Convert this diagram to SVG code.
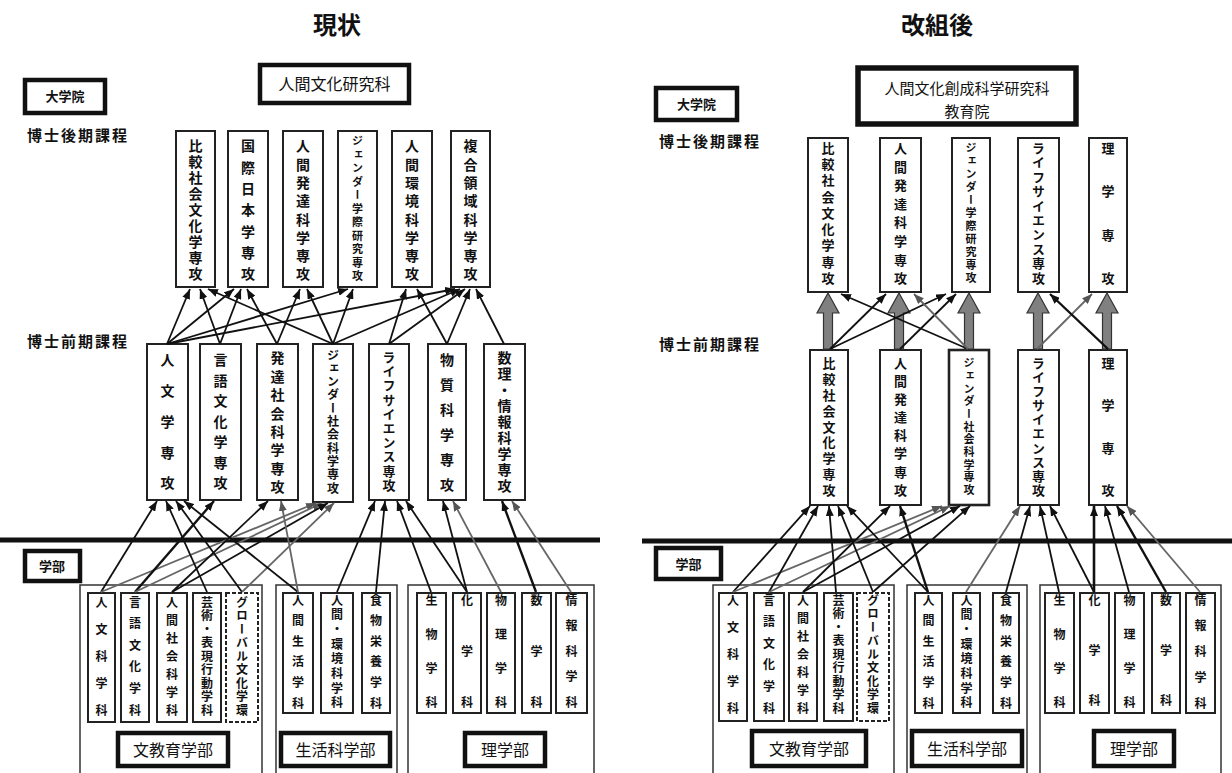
<svg xmlns="http://www.w3.org/2000/svg" width="1232" height="773" viewBox="0 0 1232 773">
<style>
text{font-family:"Noto Sans CJK JP","Noto Sans",sans-serif;fill:#111}
.t{font-size:24px;font-weight:700;text-anchor:middle}
.h{font-size:16px;text-anchor:middle}
.b{font-size:13px;font-weight:700;text-anchor:middle}
.lv{font-size:15px;font-weight:700;letter-spacing:2px}
.v{writing-mode:vertical-rl;font-weight:700;font-size:14px}
.box{fill:#fff;stroke:#222;stroke-width:2}
.dash{fill:#fff;stroke:#222;stroke-width:2;stroke-dasharray:4 2}
.thick{fill:#fff;stroke:#111;stroke-width:4.5}
.outer{fill:none;stroke:#333;stroke-width:1.5}
.k{stroke:#111;stroke-width:1.8;fill:none;marker-end:url(#ak)}
.g{stroke:#666;stroke-width:1.8;fill:none;marker-end:url(#ag)}
.fat{fill:#808080;stroke:#333;stroke-width:1.2}
</style>
<defs>
<marker id="ak" viewBox="0 0 10 8" refX="10" refY="4" markerWidth="10" markerHeight="8" markerUnits="userSpaceOnUse" orient="auto"><path d="M0,0 L10,4 L0,8 z" fill="#111"/></marker>
<marker id="ag" viewBox="0 0 10 8" refX="10" refY="4" markerWidth="10" markerHeight="8" markerUnits="userSpaceOnUse" orient="auto"><path d="M0,0 L10,4 L0,8 z" fill="#555"/></marker>
</defs>
<rect width="1232" height="773" fill="#fff"/>

<!-- ================= LEFT ================= -->
<text class="t" x="337" y="34">現状</text>
<g id="l-daigakuin"><rect class="thick" x="25" y="80" width="80" height="33"/><text class="b" x="65" y="101">大学院</text></g>
<text class="lv" x="27" y="141">博士後期課程</text>
<text class="lv" x="27" y="347">博士前期課程</text>
<g id="l-header"><rect class="thick" x="260" y="65" width="149" height="38"/><text class="h" x="334.5" y="90">人間文化研究科</text></g>

<g id="l-late">
<rect class="box" x="176" y="131" width="39" height="156"/><text class="v" x="195.5" y="139" style="letter-spacing:2px">比較社会文化学専攻</text>
<rect class="box" x="228" y="131" width="40" height="156"/><text class="v" x="248" y="139" style="letter-spacing:7.3px">国際日本学専攻</text>
<rect class="box" x="283" y="131" width="40" height="156"/><text class="v" x="303" y="139" style="letter-spacing:4.3px">人間発達科学専攻</text>
<rect class="box" x="338" y="131" width="39" height="156"/><text class="v" x="357.5" y="135.5" style="font-size:11px;letter-spacing:2.5px">ジェンダー学際研究専攻</text>
<rect class="box" x="392" y="131" width="40" height="156"/><text class="v" x="412" y="139" style="letter-spacing:4.3px">人間環境科学専攻</text>
<rect class="box" x="451" y="131" width="39" height="156"/><text class="v" x="470.5" y="139" style="letter-spacing:4.3px">複合領域科学専攻</text>
</g>

<g id="l-early">
<rect class="box" x="147" y="344" width="41" height="156"/><text class="v" x="167.5" y="353" style="letter-spacing:16.75px">人文学専攻</text>
<rect class="box" x="200" y="344" width="41" height="156"/><text class="v" x="220.5" y="353" style="letter-spacing:6.5px">言語文化学専攻</text>
<rect class="box" x="257" y="344" width="41" height="156"/><text class="v" x="277.5" y="351" style="letter-spacing:4.4px">発達社会科学専攻</text>
<rect class="box" x="313" y="344" width="40" height="158"/><text class="v" x="333" y="349" style="font-size:12px;letter-spacing:1.3px">ジェンダー社会科学専攻</text>
<rect class="box" x="369" y="344" width="40" height="156"/><text class="v" x="389" y="350.5" style="font-size:13px;letter-spacing:1.2px">ライフサイエンス専攻</text>
<rect class="box" x="428" y="344" width="38" height="156"/><text class="v" x="447" y="353" style="letter-spacing:11px">物質科学専攻</text>
<rect class="box" x="484" y="344" width="41" height="156"/><text class="v" x="504.5" y="351" style="letter-spacing:1.9px">数理・情報科学専攻</text>
</g>

<line x1="0" y1="540" x2="600" y2="540" stroke="#111" stroke-width="5"/>
<g id="l-gakubu"><rect class="thick" x="25" y="551" width="55" height="30"/><text class="b" x="52" y="571">学部</text></g>

<g id="l-bunkyoiku">
<rect class="outer" x="80" y="585" width="182" height="200"/>
<rect class="box" x="88" y="593" width="27" height="129"/><text class="v" x="101.5" y="596" style="font-size:12px;letter-spacing:15px">人文科学科</text>
<rect class="box" x="121" y="593" width="28" height="129"/><text class="v" x="135" y="596" style="font-size:12px;letter-spacing:9.6px">言語文化学科</text>
<rect class="box" x="157" y="593" width="30" height="129"/><text class="v" x="172" y="596" style="font-size:12px;letter-spacing:6px">人間社会科学科</text>
<rect class="box" x="193" y="593" width="28" height="129"/><text class="v" x="207" y="596" style="font-size:12px;letter-spacing:1.5px">芸術・表現行動学科</text>
<rect class="dash" x="226" y="593" width="32" height="129"/><text class="v" x="242" y="596" style="font-size:12px;letter-spacing:1.5px">グローバル文化学環</text>
<rect class="thick" x="118" y="733" width="110" height="33"/><text class="h" x="173" y="755.5">文教育学部</text>
</g>
<g id="l-seikatsu">
<rect class="outer" x="276" y="585" width="121" height="200"/>
<rect class="box" x="283" y="593" width="30" height="120"/><text class="v" x="298" y="594" style="font-size:12px;letter-spacing:8.6px">人間生活学科</text>
<rect class="box" x="321" y="593" width="32" height="120"/><text class="v" x="337" y="594" style="font-size:12px;letter-spacing:2.7px">人間・環境科学科</text>
<rect class="box" x="362" y="593" width="28" height="120"/><text class="v" x="376" y="594" style="font-size:12px;letter-spacing:8.6px">食物栄養学科</text>
<rect class="thick" x="281" y="733" width="109" height="33"/><text class="h" x="335.5" y="755.5">生活科学部</text>
</g>
<g id="l-rigaku">
<rect class="outer" x="408" y="585" width="186" height="200"/>
<rect class="box" x="417" y="593" width="29" height="120"/><text class="v" x="431.5" y="594" style="font-size:12px;letter-spacing:22px">生物学科</text>
<rect class="box" x="453" y="593" width="28" height="120"/><text class="v" x="467" y="594" style="font-size:12px;letter-spacing:39px">化学科</text>
<rect class="box" x="487" y="593" width="28" height="120"/><text class="v" x="501" y="594" style="font-size:12px;letter-spacing:22px">物理学科</text>
<rect class="box" x="522" y="593" width="29" height="120"/><text class="v" x="536.5" y="594" style="font-size:12px;letter-spacing:39px">数学科</text>
<rect class="box" x="556" y="593" width="31" height="120"/><text class="v" x="571.5" y="594" style="font-size:12px;letter-spacing:13.5px">情報科学科</text>
<rect class="thick" x="465" y="733" width="80" height="33"/><text class="h" x="505" y="755.5">理学部</text>
</g>

<!-- ================= RIGHT ================= -->
<text class="t" x="937" y="34">改組後</text>
<g id="r-daigakuin"><rect class="thick" x="656" y="88" width="81" height="32"/><text class="b" x="696.5" y="109">大学院</text></g>
<text class="lv" x="659" y="147">博士後期課程</text>
<text class="lv" x="659" y="350">博士前期課程</text>
<g id="r-header"><rect class="thick" x="858" y="68" width="218" height="56" style="stroke-width:5.5"/><text class="h" x="967" y="94" style="font-size:15px">人間文化創成科学研究科</text><text class="h" x="967" y="117" style="font-size:15px">教育院</text></g>

<g id="r-late">
<rect class="box" x="808" y="138" width="40" height="154"/><text class="v" x="828" y="141.5" style="font-size:13px;letter-spacing:3.25px">比較社会文化学専攻</text>
<rect class="box" x="880" y="138" width="41" height="154"/><text class="v" x="900.5" y="141.5" style="font-size:13px;letter-spacing:5.6px">人間発達科学専攻</text>
<rect class="box" x="952" y="138" width="38" height="154"/><text class="v" x="971" y="142.5" style="font-size:11px;letter-spacing:2px">ジェンダー学際研究専攻</text>
<rect class="box" x="1018" y="138" width="41" height="154"/><text class="v" x="1038.5" y="141.5" style="font-size:13px;letter-spacing:1.4px">ライフサイエンス専攻</text>
<rect class="box" x="1089" y="138" width="38" height="154"/><text class="v" x="1108" y="141.5" style="font-size:13px;letter-spacing:30.3px">理学専攻</text>
</g>

<g id="r-early">
<rect class="box" x="810" y="350" width="38" height="155"/><text class="v" x="829" y="356.5" style="font-size:13px;letter-spacing:2.9px">比較社会文化学専攻</text>
<rect class="box" x="880" y="350" width="41" height="155"/><text class="v" x="900.5" y="356.5" style="font-size:13px;letter-spacing:5.1px">人間発達科学専攻</text>
<rect class="box" x="949" y="350" width="40" height="155" style="stroke-width:2.6"/><text class="v" x="969" y="357.5" style="font-size:11px;letter-spacing:1.7px">ジェンダー社会科学専攻</text>
<rect class="box" x="1018" y="350" width="41" height="155"/><text class="v" x="1038.5" y="356.5" style="font-size:13px;letter-spacing:1.1px">ライフサイエンス専攻</text>
<rect class="box" x="1089" y="350" width="38" height="155"/><text class="v" x="1108" y="356.5" style="font-size:13px;letter-spacing:29.3px">理学専攻</text>
</g>

<line x1="642" y1="541" x2="1232" y2="541" stroke="#111" stroke-width="5"/>
<g id="r-gakubu"><rect class="thick" x="656" y="548" width="65" height="31"/><text class="b" x="688.5" y="569">学部</text></g>

<g id="r-bunkyoiku">
<rect class="outer" x="713" y="585" width="181" height="200"/>
<rect class="box" x="719" y="593" width="28" height="128"/><text class="v" x="733" y="594" style="font-size:12px;letter-spacing:15px">人文科学科</text>
<rect class="box" x="754" y="593" width="30" height="128"/><text class="v" x="769" y="594" style="font-size:12px;letter-spacing:9.6px">言語文化学科</text>
<rect class="box" x="789" y="593" width="28" height="128"/><text class="v" x="803" y="594" style="font-size:12px;letter-spacing:6px">人間社会科学科</text>
<rect class="box" x="824" y="593" width="29" height="128"/><text class="v" x="838.5" y="594" style="font-size:12px;letter-spacing:1.5px">芸術・表現行動学科</text>
<rect class="dash" x="857" y="593" width="32" height="128"/><text class="v" x="873" y="594" style="font-size:12px;letter-spacing:1.5px">グローバル文化学環</text>
<rect class="thick" x="752" y="731" width="114" height="35"/><text class="h" x="809" y="754.5">文教育学部</text>
</g>
<g id="r-seikatsu">
<rect class="outer" x="907" y="585" width="120" height="200"/>
<rect class="box" x="915" y="593" width="27" height="120"/><text class="v" x="928.5" y="594" style="font-size:12px;letter-spacing:8.6px">人間生活学科</text>
<rect class="box" x="953" y="593" width="27" height="120"/><text class="v" x="966.5" y="594" style="font-size:12px;letter-spacing:2.7px">人間・環境科学科</text>
<rect class="box" x="993" y="593" width="26" height="120"/><text class="v" x="1006" y="594" style="font-size:12px;letter-spacing:8.6px">食物栄養学科</text>
<rect class="thick" x="912" y="731" width="110" height="35"/><text class="h" x="967" y="754.5">生活科学部</text>
</g>
<g id="r-rigaku">
<rect class="outer" x="1040" y="585" width="181" height="200"/>
<rect class="box" x="1045" y="593" width="29" height="120"/><text class="v" x="1059.5" y="594" style="font-size:12px;letter-spacing:22.3px">生物学科</text>
<rect class="box" x="1080" y="593" width="29" height="120"/><text class="v" x="1094.5" y="594" style="font-size:12px;letter-spacing:38px">化学科</text>
<rect class="box" x="1115" y="593" width="29" height="120"/><text class="v" x="1129.5" y="594" style="font-size:12px;letter-spacing:22.3px">物理学科</text>
<rect class="box" x="1152" y="593" width="28" height="120"/><text class="v" x="1166" y="594" style="font-size:12px;letter-spacing:38px">数学科</text>
<rect class="box" x="1186" y="593" width="29" height="120"/><text class="v" x="1200.5" y="594" style="font-size:12px;letter-spacing:13.75px">情報科学科</text>
<rect class="thick" x="1094" y="731" width="80" height="35"/><text class="h" x="1134" y="754.5">理学部</text>
</g>

<!-- ================= CONNECTORS ================= -->
<g id="connectors">
<!-- left: early -> late -->
<line class="k" x1="167" y1="344" x2="190" y2="289"/>
<line class="k" x1="167" y1="344" x2="234" y2="289"/>
<line class="k" x1="167" y1="344" x2="348" y2="289"/>
<line class="k" x1="167" y1="344" x2="455" y2="289"/>
<line class="k" x1="220" y1="344" x2="200" y2="289"/>
<line class="k" x1="220" y1="344" x2="241" y2="289"/>
<line class="k" x1="277" y1="344" x2="247" y2="289"/>
<line class="k" x1="277" y1="344" x2="300" y2="289"/>
<line class="k" x1="333" y1="344" x2="208" y2="289"/>
<line class="k" x1="333" y1="344" x2="307" y2="289"/>
<line class="k" x1="333" y1="344" x2="353" y2="289"/>
<line class="k" x1="333" y1="344" x2="460" y2="289"/>
<line class="k" x1="389" y1="344" x2="406" y2="289"/>
<line class="k" x1="389" y1="344" x2="465" y2="289"/>
<line class="k" x1="447" y1="344" x2="417" y2="289"/>
<line class="k" x1="447" y1="344" x2="470" y2="289"/>
<line class="k" x1="504" y1="344" x2="476" y2="289"/>
<!-- left: departments -> early -->
<line class="k" x1="101" y1="592" x2="157" y2="501"/>
<line class="g" x1="101" y1="592" x2="316" y2="503"/>
<line class="k" x1="135" y1="592" x2="214" y2="501" style="stroke-width:2.4"/>
<line class="g" x1="135" y1="592" x2="322" y2="503"/>
<line class="k" x1="172" y1="592" x2="268" y2="501"/>
<line class="k" x1="172" y1="592" x2="328" y2="503"/>
<line class="k" x1="207" y1="592" x2="166" y2="501"/>
<line class="k" x1="242" y1="592" x2="176" y2="501"/>
<line class="g" x1="242" y1="592" x2="334" y2="503"/>
<line class="k" x1="298" y1="592" x2="184" y2="501"/>
<line class="g" x1="298" y1="592" x2="281" y2="501"/>
<line class="k" x1="337" y1="592" x2="375" y2="501"/>
<line class="k" x1="376" y1="592" x2="385" y2="501"/>
<line class="k" x1="431" y1="592" x2="397" y2="501"/>
<line class="k" x1="467" y1="592" x2="406" y2="501"/>
<line class="k" x1="467" y1="592" x2="443" y2="501"/>
<line class="g" x1="501" y1="592" x2="453" y2="501"/>
<line class="k" x1="536" y1="592" x2="502" y2="501" style="stroke-width:2.4"/>
<line class="g" x1="571" y1="592" x2="512" y2="501"/>

<!-- right: fat arrows early -> late -->
<polygon class="fat" points="828,293 839,313 832.5,313 832.5,349 823.5,349 823.5,313 817,313"/>
<polygon class="fat" points="899,293 910,313 903.5,313 903.5,349 894.5,349 894.5,313 888,313"/>
<polygon class="fat" points="969,293 980,313 973.5,313 973.5,349 964.5,349 964.5,313 958,313"/>
<polygon class="fat" points="1038,293 1049,313 1042.5,313 1042.5,349 1033.5,349 1033.5,313 1027,313"/>
<polygon class="fat" points="1107,293 1118,313 1111.5,313 1111.5,349 1102.5,349 1102.5,313 1096,313"/>
<!-- right: thin early -> late -->
<line class="k" x1="830" y1="349" x2="886" y2="294"/>
<line class="k" x1="830" y1="349" x2="946" y2="294"/>
<line class="k" x1="900" y1="349" x2="956" y2="294"/>
<line class="k" x1="968" y1="349" x2="841" y2="294"/>
<line class="g" x1="968" y1="349" x2="914" y2="294"/>
<line class="g" x1="1037" y1="349" x2="1092" y2="294"/>
<line class="k" x1="1108" y1="349" x2="1050" y2="294" style="stroke-width:2.4"/>
<!-- right: departments -> early -->
<line class="k" x1="733" y1="592" x2="810" y2="506"/>
<line class="g" x1="733" y1="592" x2="942" y2="506"/>
<line class="k" x1="769" y1="592" x2="818" y2="506"/>
<line class="g" x1="769" y1="592" x2="950" y2="506"/>
<line class="k" x1="803" y1="592" x2="890" y2="506"/>
<line class="k" x1="803" y1="592" x2="960" y2="506"/>
<line class="k" x1="836" y1="592" x2="829" y2="506"/>
<line class="k" x1="873" y1="592" x2="838" y2="506"/>
<line class="k" x1="873" y1="592" x2="970" y2="506"/>
<line class="k" x1="928" y1="592" x2="847" y2="506"/>
<line class="k" x1="928" y1="592" x2="900" y2="506" style="stroke-width:2.4"/>
<line class="g" x1="966" y1="592" x2="1020" y2="506"/>
<line class="k" x1="1006" y1="592" x2="1030" y2="506"/>
<line class="k" x1="1059" y1="592" x2="1040" y2="506"/>
<line class="k" x1="1094" y1="592" x2="1050" y2="506"/>
<line class="k" x1="1094" y1="592" x2="1094" y2="506" style="stroke-width:2.6"/>
<line class="k" x1="1129" y1="592" x2="1105" y2="506"/>
<line class="k" x1="1166" y1="592" x2="1117" y2="506" style="stroke-width:2.4"/>
<line class="g" x1="1200" y1="592" x2="1127" y2="506"/>
</g>
</svg>
